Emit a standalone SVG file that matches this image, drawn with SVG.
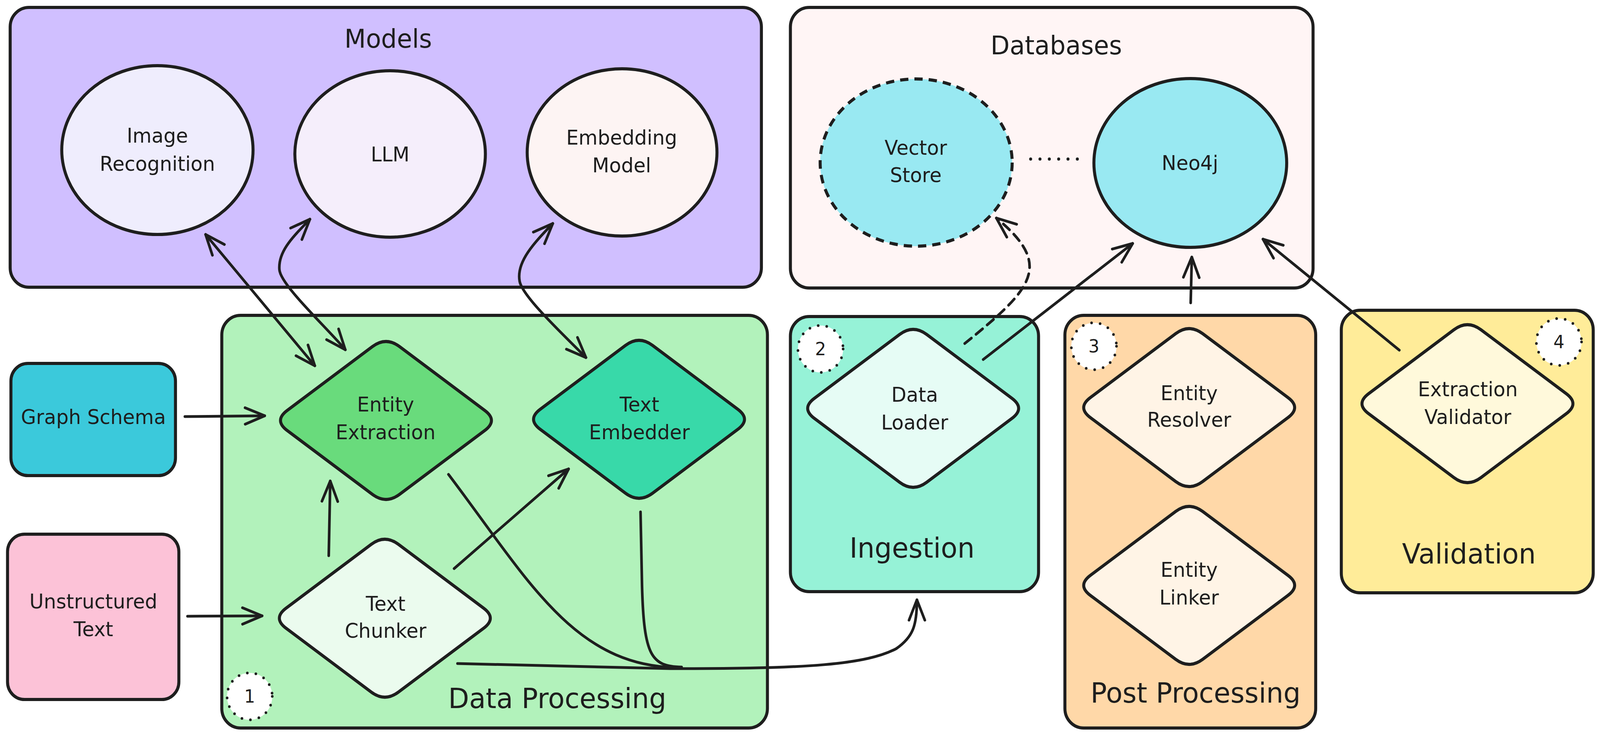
<svg xmlns="http://www.w3.org/2000/svg" width="4249" height="1886" viewBox="0 0 4249 1886" preserveAspectRatio="none">
<defs>
<style>
svg{width:100vw;height:100vh}
.box{stroke:#1e1e1e;stroke-width:8}
.shape{stroke:#1e1e1e;stroke-width:8}
.lbl{font-family:"DejaVu Sans",sans-serif;font-size:52px;fill:#1e1e1e;text-anchor:middle}
.title{font-size:66px}
.big{font-size:72px}
.num{font-size:46px}
.conn{fill:none;stroke:#1e1e1e;stroke-width:7;stroke-linecap:round;stroke-linejoin:round}
.dash{stroke-dasharray:22 16}
.dotc{fill:#ffffff;stroke:#1e1e1e;stroke-width:7;stroke-dasharray:0 23;stroke-linecap:round}
</style>
<marker id="ah" viewBox="-60 -30 70 60" refX="0" refY="0" markerWidth="70" markerHeight="60" markerUnits="userSpaceOnUse" orient="auto-start-reverse">
<path d="M-52,-21 L0,0 L-52,21" fill="none" stroke="#1e1e1e" stroke-width="7" stroke-linecap="round" stroke-linejoin="round" stroke-dasharray="none"/>
</marker>
<path id="dia" d="M-35.8,-189.2 Q0,-215 35.8,-189.2 L262.2,-25.8 Q298,0 262.2,25.8 L35.8,189.2 Q0,215 -35.8,189.2 L-262.2,25.8 Q-298,0 -262.2,-25.8 Z"/>
</defs>
<rect width="4249" height="1886" fill="#ffffff"/>

<g id="models">
<rect class="box" x="27" y="19" width="1995" height="716" rx="50" fill="#d0bfff"/>
<text class="lbl title" x="1031" y="122">Models</text>
</g>
<g id="image-recognition">
<ellipse class="shape" cx="418" cy="384" rx="254" ry="216" fill="#efedfd"/>
<text class="lbl" x="418" y="365">Image</text>
<text class="lbl" x="418" y="437">Recognition</text>
</g>
<g id="llm">
<ellipse class="shape" cx="1036" cy="394" rx="253" ry="213" fill="#f5eefb"/>
<text class="lbl" x="1036" y="413">LLM</text>
</g>
<g id="embedding-model">
<ellipse class="shape" cx="1652" cy="390" rx="252" ry="214" fill="#fdf4f3"/>
<text class="lbl" x="1651" y="370">Embedding</text>
<text class="lbl" x="1651" y="441">Model</text>
</g>

<g id="databases">
<rect class="box" x="2099" y="19" width="1388" height="718" rx="50" fill="#fff5f5"/>
<text class="lbl title" x="2805" y="139">Databases</text>
<line x1="2737" y1="407" x2="2861" y2="407" stroke="#1e1e1e" stroke-width="8" stroke-linecap="round" stroke-dasharray="0 24.8"/>
</g>
<g id="vector-store">
<ellipse class="shape dash" cx="2433" cy="416" rx="255" ry="214" fill="#99e9f2"/>
<text class="lbl" x="2432" y="396">Vector</text>
<text class="lbl" x="2432" y="466">Store</text>
</g>
<g id="neo4j">
<ellipse class="shape" cx="3161" cy="417" rx="256" ry="216" fill="#99e9f2"/>
<text class="lbl" x="3160" y="435">Neo4j</text>
</g>

<g id="graph-schema">
<rect class="box" x="29" y="930" width="437" height="287" rx="45" fill="#3bc9db"/>
<text class="lbl" x="248" y="1085">Graph Schema</text>
</g>
<g id="unstructured-text">
<rect class="box" x="20" y="1367" width="455" height="423" rx="45" fill="#fcc2d7"/>
<text class="lbl" x="248" y="1557">Unstructured</text>
<text class="lbl" x="248" y="1628">Text</text>
</g>

<g id="data-processing">
<rect class="box" x="589" y="807" width="1449" height="1056" rx="50" fill="#b2f2bb"/>
<text class="lbl big" x="1480" y="1812">Data Processing</text>
<circle class="dotc" cx="663" cy="1782" r="60"/>
<text class="lbl num" x="663" y="1798">1</text>
</g>
<g id="entity-extraction">
<use href="#dia" class="shape" transform="translate(1025,1076)" fill="#69db7c"/>
<text class="lbl" x="1024" y="1053">Entity</text>
<text class="lbl" x="1024" y="1124">Extraction</text>
</g>
<g id="text-embedder">
<use href="#dia" class="shape" transform="translate(1697,1073)" fill="#38d9a9"/>
<text class="lbl" x="1698" y="1053">Text</text>
<text class="lbl" x="1698" y="1124">Embedder</text>
</g>
<g id="text-chunker">
<use href="#dia" class="shape" transform="translate(1022,1582)" fill="#ebfbee"/>
<text class="lbl" x="1024" y="1563">Text</text>
<text class="lbl" x="1024" y="1632">Chunker</text>
</g>

<g id="ingestion">
<rect class="box" x="2099" y="810" width="659" height="704" rx="50" fill="#96f2d7"/>
<text class="lbl big" x="2422" y="1427">Ingestion</text>
<circle class="dotc" cx="2179" cy="893" r="60"/>
<text class="lbl num" x="2179" y="909">2</text>
</g>
<g id="data-loader">
<use href="#dia" class="shape" transform="translate(2425,1045)" fill="#e6fcf5"/>
<text class="lbl" x="2429" y="1028">Data</text>
<text class="lbl" x="2429" y="1099">Loader</text>
</g>

<g id="post-processing">
<rect class="box" x="2828" y="807" width="666" height="1056" rx="50" fill="#ffd8a8"/>
<text class="lbl big" x="3175" y="1798">Post Processing</text>
<circle class="dotc" cx="2905" cy="886" r="60"/>
<text class="lbl num" x="2905" y="902">3</text>
</g>
<g id="entity-resolver">
<use href="#dia" class="shape" transform="translate(3158,1043)" fill="#fff4e6"/>
<text class="lbl" x="3158" y="1024">Entity</text>
<text class="lbl" x="3158" y="1092">Resolver</text>
</g>
<g id="entity-linker">
<use href="#dia" class="shape" transform="translate(3158,1498)" fill="#fff4e6"/>
<text class="lbl" x="3158" y="1476">Entity</text>
<text class="lbl" x="3158" y="1547">Linker</text>
</g>

<g id="validation">
<rect class="box" x="3562" y="794" width="669" height="723" rx="50" fill="#ffec99"/>
<text class="lbl big" x="3901" y="1442">Validation</text>
<circle class="dotc" cx="4140" cy="875" r="60"/>
<text class="lbl num" x="4140" y="891">4</text>
</g>
<g id="extraction-validator">
<use href="#dia" class="shape" transform="translate(3897,1033)" fill="#fff9db"/>
<text class="lbl" x="3898" y="1014">Extraction</text>
<text class="lbl" x="3898" y="1085">Validator</text>
</g>

<g id="connectors">
<path class="conn" d="M491,1066 L703,1064" marker-end="url(#ah)"/>
<path class="conn" d="M498,1577 L696,1576" marker-end="url(#ah)"/>
<path class="conn" d="M873,1422 L877,1231" marker-end="url(#ah)"/>
<path class="conn" d="M1206,1455 L1510,1200" marker-end="url(#ah)"/>
<path class="conn" d="M546,600 L836,936" marker-start="url(#ah)" marker-end="url(#ah)"/>
<path class="conn" d="M823,561 C785,600 738,640 742,690 C745,730 870,840 917,895" marker-start="url(#ah)" marker-end="url(#ah)"/>
<path class="conn" d="M1468,572 C1420,620 1370,670 1380,720 C1388,760 1500,860 1556,915" marker-start="url(#ah)" marker-end="url(#ah)"/>
<path class="conn" d="M1191,1214 C1400,1480 1520,1700 1790,1708"/>
<path class="conn" d="M1701,1310 L1705,1500 C1710,1680 1730,1705 1810,1707"/>
<path class="conn" d="M1215,1698 L1780,1711 C2150,1712 2300,1700 2380,1660 C2425,1630 2435,1600 2435,1535" marker-end="url(#ah)"/>
<path class="conn dash" d="M2562,879 C2740,740 2800,680 2646,558" marker-end="url(#ah)"/>
<path class="conn" d="M2611,920 L3008,623" marker-end="url(#ah)"/>
<path class="conn" d="M3162,775 L3165,658" marker-end="url(#ah)"/>
<path class="conn" d="M3716,896 L3354,612" marker-end="url(#ah)"/>
</g>
</svg>
